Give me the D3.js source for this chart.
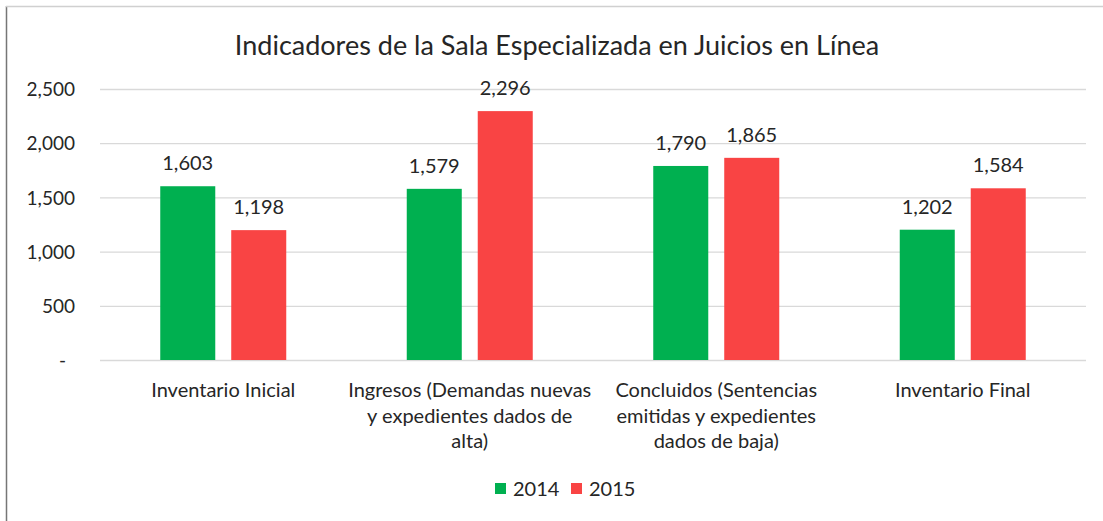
<!DOCTYPE html>
<html><head><meta charset="utf-8">
<script src="https://cdn.jsdelivr.net/npm/d3@7"></script>
<style>
body{margin:0;background:#fff;}
text{font-family:Lato,"Open Sans",sans-serif;fill:#262626;}
</style></head>
<body><svg id="c" width="1103" height="521"></svg>
<script>
const categories = [
  ["Inventario Inicial"],
  ["Ingresos (Demandas nuevas","y expedientes dados de","alta)"],
  ["Concluidos (Sentencias","emitidas y expedientes","dados de baja)"],
  ["Inventario Final"]
];
const seriesNames = ["2014","2015"];
const values2014 = [1603,1579,1790,1202];
const values2015 = [1198,2296,1865,1584];
const yTicks = [0,500,1000,1500,2000,2500];
const title = "Indicadores de la Sala Especializada en Juicios en Línea";
const colors = ["#00b050","#f94444"];

const svg = d3.select("#c");
const W=1103,H=521;
const m={l:100,r:17,t:89,b:161};
const x0 = d3.scaleBand().domain(d3.range(categories.length)).range([m.l,W-m.r]).paddingInner(0).paddingOuter(0);
const bw = x0.bandwidth();
const x1 = d3.scaleBand().domain(seriesNames).range([bw/2-63,bw/2+63]).paddingInner(0.225).paddingOuter(0);
const y = d3.scaleLinear().domain([0,2500]).range([H-m.b,m.t]);
const fmt = d3.format(",");

// frame
svg.append("line").attr("x1",6.5).attr("x2",6.5).attr("y1",6).attr("y2",H).attr("stroke","#767676").attr("stroke-width",1.5);
svg.append("line").attr("x1",6).attr("x2",W).attr("y1",6.5).attr("y2",6.5).attr("stroke","#d0d0d0").attr("stroke-width",1.5);

// title
svg.append("text").attr("x",557).attr("y",55).attr("text-anchor","middle").style("font-size","27px").text(title);

// grid
const yAxis = d3.axisLeft(y).tickValues(yTicks).tickSize(-(W-m.l-m.r)).tickFormat(d=>d===0?"-":fmt(d));
const ga = svg.append("g").attr("transform",`translate(${m.l},0)`).call(yAxis);
ga.select(".domain").remove();
ga.selectAll(".tick line").attr("stroke","#d9d9d9").attr("stroke-width",1.3);
ga.selectAll(".tick text").style("font-size","19px").attr("fill","#262626").attr("dy","0.35em").attr("x",-25).attr("text-anchor","end");
ga.selectAll(".tick text").filter(d=>d===0).attr("x",-34);

const data = categories.map((c,i)=>({i, vals:[values2014[i],values2015[i]]}));
const g = svg.append("g");
const groups = g.selectAll("g").data(data).join("g").attr("transform",d=>`translate(${x0(d.i)},0)`);
groups.selectAll("rect").data(d=>d.vals.map((v,j)=>({v,s:seriesNames[j],j}))).join("rect")
  .attr("x",d=>x1(d.s)).attr("width",x1.bandwidth())
  .attr("y",d=>y(d.v)).attr("height",d=>y(0)-y(d.v)).attr("fill",d=>colors[d.j]);
groups.selectAll("text.lbl").data(d=>d.vals.map((v,j)=>({v,s:seriesNames[j],j}))).join("text").attr("class","lbl")
  .attr("x",d=>x1(d.s)+x1.bandwidth()/2).attr("y",d=>y(d.v)-16).attr("text-anchor","middle").style("font-size","20px").text(d=>fmt(d.v));

// category labels
const xl = svg.append("g");
categories.forEach((lines,i)=>{
  const t = xl.append("text").attr("x",x0(i)+x0.bandwidth()/2).attr("y",397).attr("text-anchor","middle").style("font-size","20px");
  lines.forEach((ln,k)=>t.append("tspan").attr("x",x0(i)+x0.bandwidth()/2).attr("dy",k===0?0:25.5).text(ln));
});

// legend
const lg = svg.append("g");
seriesNames.forEach((s,j)=>{
  const lx = [495,571][j];
  lg.append("rect").attr("x",lx).attr("y",483).attr("width",11).attr("height",11).attr("fill",colors[j]);
  lg.append("text").attr("x",lx+18).attr("y",496).style("font-size","20px").text(s);
});
</script></body></html>
